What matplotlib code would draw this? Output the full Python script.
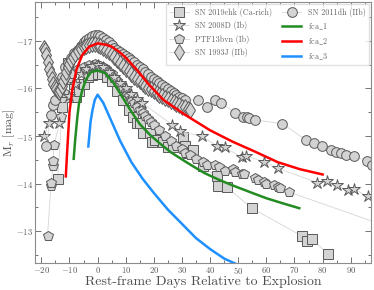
import numpy as np
import matplotlib
matplotlib.use('Agg')
import matplotlib.pyplot as plt

plt.rcParams['font.family'] = 'serif'
plt.rcParams['font.serif'] = ['cmr10']
plt.rcParams['mathtext.fontset'] = 'cm'
plt.rcParams['axes.unicode_minus'] = False
plt.rcParams['axes.formatter.use_mathtext'] = True

# SN 2019ehk (Ca-rich)
ehk_t = [-14.2, -12.5, -12.0, -11.5, -10.7, -9.5, -8.5, -7.8, -6.5, -5.0, -3.5, -2.0, 0.0, 1.5, 3.5, 5.0,
         7.0, 9.0, 11.0, 12.5, 14.0, 15.2, 16.3, 18.7, 19.4, 20.5, 23.3, 25.0, 26.8, 30.4, 31.0, 32.1,
         34.0, 37.4, 42.3, 42.7, 45.9, 54.8, 72.8, 74.5, 76.2, 81.9]
ehk_m = [-14.09, -15.62, -15.83, -16.2, -16.54, -16.35, -16.1, -15.83, -15.95, -16.1, -16.25, -16.28, -16.3, -16.3,
         -16.25, -16.15, -15.95, -15.75, -15.55, -15.4, -15.28, -15.28, -15.07, -15.07, -14.88, -14.92, -14.88,
         -14.76, -14.76, -14.97, -14.8, -14.65, -14.7, -14.36, -14.15, -13.94, -13.93, -13.48, -12.89, -12.8,
         -12.84, -12.51]

# SN 2008D (Ib)
s08d_t = [-19.0, -17.3, -13.8, -10.0, -8.0, -6.0, -4.0, -2.0, 0.0, 2.0, 4.0, 6.0, 8.0, 10.0, 12.0, 14.0, 15.9,
          26.5, 29.3, 37.0, 42.3, 45.2, 51.2, 52.9, 59.3, 64.2, 78.0, 81.5, 85.0, 88.9, 91.3, 96.0, 105.0]
s08d_m = [-14.99, -15.28, -15.28, -15.85, -16.1, -16.3, -16.42, -16.48, -16.5, -16.45, -16.35, -16.25, -16.12,
          -16.0, -15.88, -15.78, -15.69, -15.24, -15.1, -14.99, -14.8, -14.76, -14.55, -14.58, -14.45, -14.32,
          -14.02, -14.06, -13.96, -13.86, -13.88, -13.73, -13.5]

# PTF13bvn (Ib)
ptf_t = [-17.8, -16.6, -16.4, -16.0, -15.8, -15.5, -13.0, -12.0, -10.7, -9.0, -7.0, -5.0, -3.0, -1.0, 0.0, 1.0,
         2.0, 3.0, 4.0, 5.0, 6.0, 7.0, 8.0, 9.0, 10.0, 11.0, 12.0, 13.0, 14.0, 15.0, 16.0, 17.0, 18.0, 19.0,
         20.0, 22.0, 24.0, 26.0, 28.0, 30.0, 31.0, 33.0, 35.0, 37.4, 38.8, 41.6, 43.0, 45.2, 48.0, 48.7, 51.2,
         52.0, 55.8, 57.0, 59.3, 60.0, 62.8, 64.0, 65.0, 68.1, 110.0]
ptf_m = [-12.9, -13.95, -14.02, -14.36, -14.47, -14.82, -15.4, -15.9, -16.18, -16.3, -16.4, -16.45, -16.5, -16.52,
         -16.5, -16.48, -16.45, -16.4, -16.35, -16.3, -16.22, -16.15, -16.08, -16.0, -15.92, -15.85, -15.78,
         -15.7, -15.62, -15.55, -15.48, -15.42, -15.36, -15.3, -15.24, -15.12, -15.0, -14.9, -14.8, -14.72,
         -14.65, -14.6, -14.52, -14.46, -14.4, -14.4, -14.35, -14.27, -14.3, -14.25, -14.21, -14.2, -14.11,
         -14.08, -14.04, -13.98, -13.96, -13.92, -13.9, -13.82, -12.95]

# SN 1993J (IIb)
s93j_t = [-19.2, -18.7, -18.2, -17.7, -17.2, -16.7, -16.2, -15.7, -15.2, -14.7, -14.2, -13.7, -13.2, -12.7, -12.2,
          -11.7, -11.2, -10.7, -10.2, -9.5, -8.8, -8.0, -7.0, -6.0, -5.0, -4.0, -3.0, -2.0, -1.0, 0.0, 1.0, 2.0,
          3.0, 4.0, 5.0, 6.0, 7.0, 8.0, 9.0, 10.0, 11.0, 12.0, 13.0, 14.0, 15.0, 16.0, 17.0, 18.0, 19.0, 20.0,
          21.0, 22.0, 23.0, 24.0, 25.0, 26.0, 27.0, 28.0, 29.0, 30.0, 31.0, 32.0, 33.0]
s93j_m = [-16.85, -16.8, -16.7, -16.55, -16.42, -16.3, -16.2, -16.1, -16.03, -15.98, -15.94, -15.93, -15.97,
          -16.05, -16.15, -16.25, -16.35, -16.45, -16.52, -16.6, -16.66, -16.72, -16.78, -16.83, -16.87, -16.9,
          -16.92, -16.93, -16.93, -16.92, -16.9, -16.86, -16.82, -16.77, -16.72, -16.66, -16.6, -16.54, -16.48,
          -16.42, -16.36, -16.3, -16.25, -16.2, -16.15, -16.1, -16.06, -16.02, -15.98, -15.94, -15.9, -15.87,
          -15.84, -15.8, -15.77, -15.74, -15.71, -15.68, -15.65, -15.62, -15.6, -15.57, -15.55]

# SN 2011dh (IIb)
s11dh_t = [-18.4, -16.5, -16.0, -15.0, -13.5, -12.5, -11.5, -10.7, -9.5, -8.3, -7.0, -6.0, -5.0, -4.0, -3.0, -2.0,
           -1.0, 0.0, 1.0, 2.0, 3.0, 4.0, 5.0, 6.0, 7.0, 8.0, 9.0, 10.0, 11.0, 12.0, 13.0, 14.0, 15.0, 16.0, 17.0,
           18.0, 19.0, 20.0, 21.0, 22.0, 23.0, 24.0, 25.0, 26.0, 27.0, 28.0, 29.0, 30.0, 31.0, 35.7, 38.8, 41.6,
           44.0, 48.7, 51.6, 53.0, 54.0, 55.8, 65.7, 74.0, 77.0, 79.8, 83.0, 84.7, 86.5, 88.2, 91.0, 95.7, 97.5]
s11dh_m = [-14.78, -15.45, -15.66, -15.75, -16.0, -16.25, -16.45, -16.54, -16.65, -16.75, -16.82, -16.9, -16.97,
           -17.03, -17.07, -17.1, -17.12, -17.13, -17.1, -17.07, -17.02, -16.97, -16.92, -16.86, -16.82, -16.77,
           -16.72, -16.68, -16.64, -16.6, -16.55, -16.5, -16.45, -16.4, -16.35, -16.3, -16.25, -16.2, -16.15,
           -16.12, -16.08, -16.03, -15.98, -15.94, -15.9, -15.86, -15.82, -15.79, -15.76, -15.76, -15.62, -15.76,
           -15.7, -15.49, -15.41, -15.39, -15.38, -15.34, -15.26, -14.92, -14.86, -14.78, -14.71, -14.67, -14.65,
           -14.61, -14.57, -14.48, -14.4]

# model curves
fca1_t = [-8.5, -8.0, -7.2, -6.6, -5.5, -4.2, -2.5, 0.0, 2.5, 5.75, 8.5, 11.6, 15.0, 18.7, 22.2, 26.0, 31.0,
          34.0, 38.0, 42.7, 48.0, 54.6, 60.0, 66.0, 71.7]
fca1_m = [-14.52, -14.9, -15.4, -15.69, -15.95, -16.18, -16.34, -16.38, -16.33, -16.11, -15.85, -15.55, -15.25,
          -15.02, -14.84, -14.66, -14.47, -14.36, -14.22, -14.09, -13.96, -13.81, -13.69, -13.58, -13.48]

fca2_t = [-11.3, -10.8, -10.0, -9.0, -7.5, -5.5, -3.0, 0.0, 3.0, 5.0, 7.5, 10.0, 14.0, 18.0, 23.4, 31.0, 40.0,
          48.0, 56.0, 64.0, 72.0, 80.0]
fca2_m = [-14.15, -14.7, -15.5, -15.97, -16.4, -16.7, -16.88, -16.95, -16.92, -16.88, -16.78, -16.65, -16.39,
          -16.1, -15.76, -15.45, -15.12, -14.88, -14.67, -14.45, -14.3, -14.19]

fca3_t = [-3.3, -2.5, -1.8, -1.0, 0.0, 2.0, 5.0, 8.0, 12.0, 16.0, 20.0, 25.0, 30.0, 35.0, 40.0, 45.0, 49.5]
fca3_m = [-14.78, -15.3, -15.55, -15.76, -15.87, -15.7, -15.3, -14.9, -14.45, -14.1, -13.8, -13.45, -13.15,
          -12.85, -12.62, -12.42, -12.3]

fig = plt.figure(figsize=(3.74, 2.9), dpi=100)
ax = fig.add_axes([0.094, 0.092, 0.898, 0.901])

gray_line = '0.84'
mfc = '#d3d3d3'
mec = '0.35'
kw = dict(color=gray_line, lw=0.6, mfc=mfc, mec=mec, mew=0.7)

h1, = ax.plot(ehk_t, ehk_m, 's', ls='-', ms=7.3, label='SN 2019ehk (Ca-rich)', **kw)
h3, = ax.plot(ptf_t, ptf_m, 'p', ls='-', ms=7.8, label='PTF13bvn (Ib)', **kw)
h2, = ax.plot(s08d_t, s08d_m, '*', ls='-', ms=9, label='SN 2008D (Ib)', **kw)
h5, = ax.plot(s11dh_t, s11dh_m, 'o', ls='-', ms=7, label='SN 2011dh (IIb)', **kw)
h4, = ax.plot(s93j_t, s93j_m, 'd', ls='-', ms=8, label='SN 1993J (IIb)', **kw)

h6, = ax.plot(fca1_t, fca1_m, color='#228b22', lw=1.8, label=r'fca$\_$1')
h7, = ax.plot(fca2_t, fca2_m, color='red', lw=1.8, label=r'fca$\_$2')
h8, = ax.plot(fca3_t, fca3_m, color='#1e90ff', lw=1.8, label=r'fca$\_$3')

ax.set_xlim(-22.2, 97.2)
ax.set_ylim(-12.32, -17.82)

ax.set_xticks(np.arange(-20, 100, 10))
ax.set_xticks(np.arange(-20, 100, 5), minor=True)
ax.set_yticks([-17, -16, -15, -14, -13])
ax.set_yticks(np.arange(-17.5, -12.0, 0.5), minor=True)

ax.tick_params(which='both', direction='in', top=True, right=True, colors='0.45', labelcolor='0.35',
               labelsize=6.3, width=0.7, pad=1.2)
ax.tick_params(which='major', length=4.5)
ax.tick_params(which='minor', length=2.5)
for s in ax.spines.values():
    s.set_color('0.55')
    s.set_linewidth(0.8)

ax.set_xlabel('Rest-frame Days Relative to Explosion', fontsize=10, color='0.3', labelpad=0)
ax.set_ylabel(r'M$_r$ [mag]', fontsize=8.5, color='0.3')
ax.yaxis.set_label_coords(-0.053, 0.5)

leg = ax.legend(handles=[h1, h2, h3, h4, h5, h6, h7, h8], ncol=2, loc='upper right', fontsize=5.8,
                frameon=True, fancybox=False, edgecolor='0.85', borderaxespad=0.3, handlelength=2.4,
                columnspacing=1.2, labelspacing=0.55)
for t in leg.get_texts():
    t.set_color('0.4')

fig.savefig('out.png', dpi=100)
